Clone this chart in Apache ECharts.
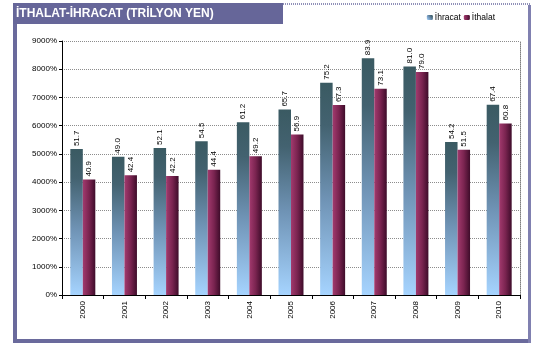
<!DOCTYPE html>
<html>
<head>
<meta charset="utf-8">
<script src="https://cdn.jsdelivr.net/npm/echarts@6/dist/echarts.min.js"></script>
<style>
  html, body { margin: 0; padding: 0; background: #fff; }
  #chart { width: 536px; height: 352px; }
</style>
</head>
<body>
<div id="chart"></div>
<script>
// Years on the x axis
const years = ['2000', '2001', '2002', '2003', '2004', '2005', '2006', '2007', '2008', '2009', '2010']
// Values (trilyon yen)
const ihracat = [51.7, 49.0, 52.1, 54.5, 61.2, 65.7, 75.2, 83.9, 81.0, 54.2, 67.4]
const ithalat = [40.9, 42.4, 42.2, 44.4, 49.2, 56.9, 67.3, 73.1, 79.0, 51.5, 60.8]

const FONT = 'Arial, "Liberation Sans", sans-serif'

const labelOpt = {
  show: true,
  position: 'top',
  rotate: 90,
  align: 'left',
  verticalAlign: 'middle',
  distance: 3,
  fontSize: 8,
  fontFamily: FONT,
  color: '#000',
  formatter: (p) => p.value.toFixed(1),
}

const option = {
  animation: false,
  textStyle: { fontFamily: FONT },
  legend: {
    right: 36,
    top: 8,
    itemWidth: 6,
    itemHeight: 5,
    itemGap: 3,
    textStyle: { fontSize: 8.5, fontFamily: FONT, color: '#000', padding: [0, 0, 0, -3] },
    data: ['İhracat', 'İthalat'],
  },
  grid: { left: 62, right: 16, top: 41, bottom: 57 },
  xAxis: {
    type: 'category',
    data: years,
    axisLine: { lineStyle: { color: '#000', width: 1 } },
    axisTick: { show: true, length: 4, lineStyle: { color: '#000' } },
    axisLabel: { rotate: 90, margin: 6, fontSize: 8, fontFamily: FONT, color: '#000' },
  },
  yAxis: [
    {
      type: 'value',
      min: 0,
      max: 90,
      interval: 10,
      axisLine: { show: true, lineStyle: { color: '#000', width: 1 } },
      axisTick: { show: true, length: 3, lineStyle: { color: '#000' } },
      axisLabel: { fontSize: 8, fontFamily: FONT, color: '#000', margin: 5, formatter: (v) => v * 100 + '%' },
      splitLine: { lineStyle: { color: '#8c8c8c', type: [1, 1] } },
    },
    {
      type: 'value',
      position: 'right',
      min: 0,
      max: 90,
      interval: 10,
      axisLine: { show: true, lineStyle: { color: '#808080', type: [1, 1] } },
      axisTick: { show: false },
      axisLabel: { show: false },
      splitLine: { show: false },
    },
  ],
  series: [
    {
      name: 'İhracat',
      type: 'bar',
      data: ihracat,
      barGap: '0%',
      barCategoryGap: '40%',
      label: labelOpt,
      itemStyle: {
        color: new echarts.graphic.LinearGradient(0, 1, 1, 0, [
          { offset: 0, color: '#a6d4ff' },
          { offset: 0.45, color: '#6f93b5' },
          { offset: 0.8, color: '#436270' },
          { offset: 1, color: '#3a5a62' },
        ]),
      },
    },
    {
      name: 'İthalat',
      type: 'bar',
      data: ithalat,
      label: labelOpt,
      itemStyle: {
        color: new echarts.graphic.LinearGradient(0, 0, 1, 0, [
          { offset: 0, color: '#a23a6e' },
          { offset: 0.5, color: '#7a2450' },
          { offset: 1, color: '#3e0c2a' },
        ]),
      },
    },
  ],
  graphic: [
    // frame
    { type: 'rect', shape: { x: 13, y: 3, width: 4, height: 340 }, style: { fill: '#6a6a9c' }, silent: true },
    { type: 'rect', shape: { x: 13, y: 339, width: 518, height: 4 }, style: { fill: '#6a6a9c' }, silent: true },
    { type: 'rect', shape: { x: 528, y: 5, width: 3, height: 338 }, style: { fill: '#8080b0' }, silent: true },
    { type: 'line', shape: { x1: 283, y1: 4, x2: 530, y2: 4 }, style: { stroke: '#9090b8', lineWidth: 2, lineDash: [1, 1] }, silent: true },
    // title band
    { type: 'rect', shape: { x: 13, y: 3, width: 270, height: 21 }, style: { fill: '#666699' }, silent: true },
    {
      type: 'text',
      x: 16,
      y: 14,
      style: {
        text: 'İTHALAT-İHRACAT (TRİLYON YEN)',
        fill: '#fff',
        font: 'bold 12px Arial, "Liberation Sans", sans-serif',
        verticalAlign: 'middle',
      },
      silent: true,
    },
  ],
}

const c = echarts.init(document.getElementById('chart'))
c.setOption(option)
</script>
</body>
</html>
